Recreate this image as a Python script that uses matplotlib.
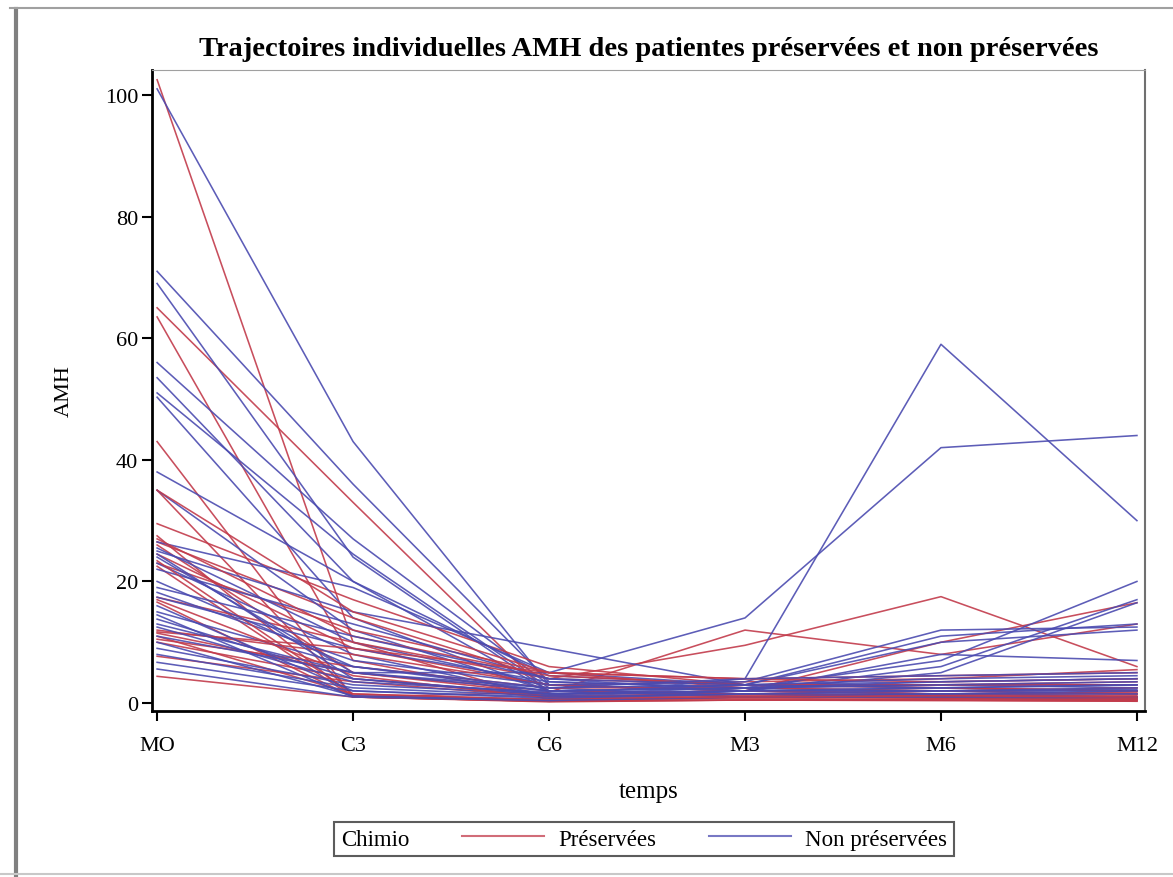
import matplotlib.pyplot as plt
from matplotlib.lines import Line2D

plt.rcParams['font.family'] = ['Liberation Serif', 'DejaVu Serif']

#### Donnees ####

temps = ['MO', 'C3', 'C6', 'M3', 'M6', 'M12']

# AMH par patiente : MO, C3, C6, M3, M6, M12
preservees = [
    [102.5, 10, 0.5, 1.0, 0.8, 0.5],
    [65, 33, 1.5, 2.0, 1.5, 1.2],
    [63.5, 7, 1.0, 1.5, 1.0, 0.8],
    [43, 1.0, 0.3, 0.5, 0.4, 0.3],
    [35, 1.2, 0.4, 1.0, 0.8, 0.6],
    [29.5, 17, 6, 3, 2.5, 2.0],
    [27.5, 1.0, 1.8, 12, 8, 13],
    [26.5, 14, 4, 9.5, 17.5, 6],
    [26, 5, 1.5, 2, 10, 16.5],
    [24.5, 9, 3, 3.5, 4, 5.5],
    [23, 12, 5, 2.5, 2, 1.5],
    [22.5, 1.0, 0.2, 0.5, 0.5, 0.3],
    [17.4, 10, 4, 3, 2.5, 2],
    [16.6, 1.0, 0.3, 0.8, 0.5, 0.5],
    [12, 8, 3, 2, 1.5, 1.5],
    [11.5, 5, 2, 1.5, 1.2, 1.0],
    [11, 1.5, 0.5, 1.0, 1.0, 0.8],
    [10.5, 6, 2.5, 2.5, 3, 3.5],
    [10, 4, 1.2, 1.5, 2.0, 2.5],
    [7.7, 3.5, 1.0, 1.2, 1.5, 1.8],
    [4.4, 1.0, 0.3, 0.5, 0.5, 0.5],
    [35, 15, 5, 4, 3.5, 4],
    [27, 11, 4.5, 3, 3, 3],
    [23.4, 1.5, 0.6, 1.0, 0.9, 0.9],
    [11.7, 9, 5, 4, 4.5, 5],
    [17, 4.5, 0.8, 1.0, 1.2, 1.0],
]

non_preservees = [
    [101, 43, 3, 2, 1.5, 1],
    [71, 36, 3.5, 2.5, 2, 1.5],
    [69, 24, 2, 1.5, 1, 1],
    [56, 27, 3, 2, 2.5, 2],
    [53.5, 20, 2, 1.5, 1.2, 1],
    [51, 24.5, 2.5, 1, 1, 0.7],
    [50.3, 14, 2, 1.5, 1, 1],
    [38, 20, 4.5, 3, 3, 2.5],
    [35, 12, 2, 1, 1, 1],
    [26.5, 19, 5, 3, 11, 13],
    [25.5, 10, 3, 2, 2, 2],
    [25, 15, 9, 3, 3.5, 4],
    [24, 5, 5, 14, 42, 44],
    [23, 8, 1.2, 4, 59, 30],
    [22, 13, 4, 2, 6, 17],
    [18.2, 7, 3, 3.5, 12, 12.5],
    [17.4, 9, 3.5, 2.5, 7, 20],
    [15, 6, 2.5, 3, 10, 12],
    [14.5, 1.0, 0.5, 2, 5, 16.5],
    [13.8, 4, 1.5, 2, 8, 7],
    [11, 5, 2, 2.5, 3, 3],
    [10, 1.2, 0.6, 1, 1.5, 2],
    [9, 3, 1.5, 2, 2, 2.5],
    [6.7, 2, 1, 1.5, 1.5, 1.5],
    [5.6, 1.0, 0.4, 1, 1, 1],
    [20, 6, 2, 2.5, 3, 3.5],
    [12.5, 3.5, 1.8, 3, 4, 4.5],
    [8, 2.5, 1.2, 2.0, 2.5, 3],
    [16, 2, 0.8, 1.5, 2, 2.2],
    [24.5, 4, 1.5, 2.5, 3.5, 4],
    [13, 5, 2.5, 4, 4.5, 5],
    [19, 11, 4, 3, 2.5, 3],
]

rouge = '#C23B4B'
bleu = '#4B4BB0'

#### Graphique ####

fig = plt.figure(figsize=(11.73, 8.78), dpi=100)
ax = fig.add_axes([0.1296, 0.1891, 0.8465, 0.7300])

x = list(range(len(temps)))
n = max(len(preservees), len(non_preservees))
for i in range(n):
    if i < len(preservees):
        ax.plot(x, preservees[i], color=rouge, lw=1.15, alpha=0.9)
    if i < len(non_preservees):
        ax.plot(x, non_preservees[i], color=bleu, lw=1.15, alpha=0.9)

ax.set_xlim(-0.026, 5.041)
ax.set_ylim(-1.3, 104.1)
ax.set_xticks(x)
ax.set_xticklabels(temps)
ax.set_yticks([0, 20, 40, 60, 80, 100])
ax.tick_params(labelsize=16, length=7, width=1.5)
ax.tick_params(axis='x', pad=11)
ax.tick_params(axis='y', pad=3)

ax.spines['left'].set_linewidth(2)
ax.spines['bottom'].set_linewidth(2)
ax.spines['top'].set_color('#a0a0a0')
ax.spines['right'].set_color('#707070')
ax.spines['right'].set_linewidth(1.5)

ax.set_xlabel('temps', fontsize=18, labelpad=18)
ax.set_ylabel('AMH', fontsize=16, labelpad=22)
ax.set_title('Trajectoires individuelles AMH des patientes préservées et non préservées',
             fontsize=20.5, fontweight='bold', pad=11)

handles = [Line2D([], [], color=rouge, lw=1.5, alpha=0.75),
           Line2D([], [], color=bleu, lw=1.5, alpha=0.75)]
leg = fig.legend(handles, ['Préservées', 'Non préservées'], title='Chimio',
                 ncol=2, loc='center', bbox_to_anchor=(0.549, 0.0433),
                 fontsize=16.5, title_fontsize=16.5, frameon=True, fancybox=False,
                 handlelength=3.6, handletextpad=0.6, columnspacing=1.6,
                 borderpad=0.3, edgecolor='#333333')
leg.get_frame().set_linewidth(1.5)
# titre de legende a gauche
c = leg.get_children()[0]
titre = c.get_children()[0]
hpack = c.get_children()[1]
c._children.remove(titre)
hpack._children = [titre] + hpack.get_children()
hpack.sep = 38

# cadre exterieur
fig.add_artist(Line2D([16 / 1173, 16 / 1173], [0, 1 - 10 / 878], color='#808080', lw=3))
fig.add_artist(Line2D([10 / 1173, 1], [1 - 9 / 878, 1 - 9 / 878], color='#a0a0a0', lw=1.5))
fig.add_artist(Line2D([0, 1], [3 / 878, 3 / 878], color='#c8c8c8', lw=1.5))

fig.savefig('out.png', dpi=100)
plt.close()
